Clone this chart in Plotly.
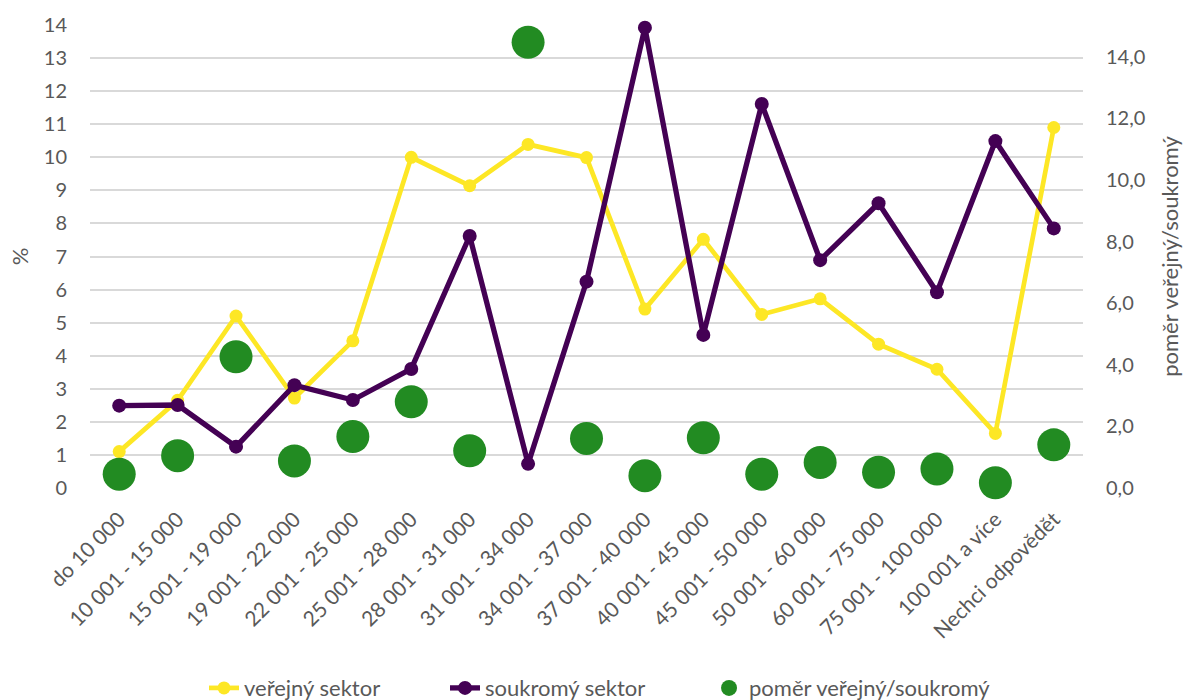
import plotly.graph_objects as go

# kategorie příjmů (Kč)
kategorie = [
    "do 10 000", "10 001 - 15 000", "15 001 - 19 000", "19 001 - 22 000",
    "22 001 - 25 000", "25 001 - 28 000", "28 001 - 31 000", "31 001 - 34 000",
    "34 001 - 37 000", "37 001 - 40 000", "40 001 - 45 000", "45 001 - 50 000",
    "50 001 - 60 000", "60 001 - 75 000", "75 001 - 100 000", "100 001 a více",
    "Nechci odpovědět",
]

verejny = [1.10, 2.65, 5.20, 2.72, 4.45, 10.0, 9.14, 10.39, 9.99, 5.41,
           7.52, 5.25, 5.72, 4.35, 3.59, 1.65, 10.9]
soukromy = [2.49, 2.51, 1.25, 3.11, 2.66, 3.60, 7.62, 0.73, 6.24, 13.92,
            4.63, 11.61, 6.89, 8.61, 5.92, 10.49, 7.85]
pomer = [0.45, 1.05, 4.26, 0.88, 1.67, 2.80, 1.21, 14.47, 1.61, 0.40,
         1.63, 0.45, 0.83, 0.51, 0.62, 0.17, 1.40]

levy_ticky = list(range(0, 15))
pravy_ticky = [0, 2, 4, 6, 8, 10, 12, 14]

SEDA = "#595959"
FONT = "Lato, 'Open Sans', sans-serif"

fig = go.Figure()

fig.add_trace(go.Scatter(
    x=kategorie, y=verejny, name="veřejný sektor", mode="lines+markers",
    line=dict(color="#FDE725", width=4.7),
    marker=dict(color="#FDE725", size=13),
    legend="legend", cliponaxis=False,
))
fig.add_trace(go.Scatter(
    x=kategorie, y=soukromy, name="soukromý sektor", mode="lines+markers",
    line=dict(color="#440154", width=5.3),
    marker=dict(color="#440154", size=14),
    legend="legend2", cliponaxis=False,
))
fig.add_trace(go.Scatter(
    x=kategorie, y=pomer, name="poměr veřejný/soukromý", mode="markers",
    marker=dict(color="#228B22", size=33),
    yaxis="y2", legend="legend3", cliponaxis=False,
))

# tři legendy vedle sebe, každá na své pozici
leg = dict(orientation="h", xanchor="left", yref="container", y=0.017, yanchor="middle",
           font=dict(size=22, color=SEDA), bgcolor="rgba(0,0,0,0)")

fig.update_layout(
    width=1188, height=700,
    paper_bgcolor="white", plot_bgcolor="white",
    margin=dict(l=90, r=105, t=25, b=212),
    font=dict(family=FONT, size=20, color=SEDA),
    separators=", ",
    showlegend=True,
    legend=dict(leg, x=0.1148),
    legend2=dict(leg, x=0.3575),
    legend3=dict(leg, x=0.6234),
    xaxis=dict(tickangle=-45, showgrid=False, showline=False, ticks="",
               range=[-0.5, 16.5], automargin=False, ticklabelstandoff=14,
               tickfont=dict(size=21, color=SEDA)),
    yaxis=dict(range=[0, 14], tickvals=levy_ticky, showgrid=True,
               gridcolor="#D9D9D9", gridwidth=1.5, zeroline=False,
               automargin=False, ticklabelstandoff=22,
               title=dict(text="%", standoff=9, font=dict(size=22)),
               ticks="", showline=False),
    yaxis2=dict(range=[0, 15.03], tickvals=pravy_ticky, tickformat=".1f",
                overlaying="y", side="right", showgrid=False, zeroline=False,
                automargin=False, ticklabelstandoff=22,
                title=dict(text="poměr veřejný/soukromý", standoff=18, font=dict(size=22)),
                ticks="", showline=False),
)

# bez okraje stránky, aby graf seděl přesně do okna
fig.write_html("out.html", config={"displayModeBar": False},
               post_script="document.body.style.margin = '0px';")
